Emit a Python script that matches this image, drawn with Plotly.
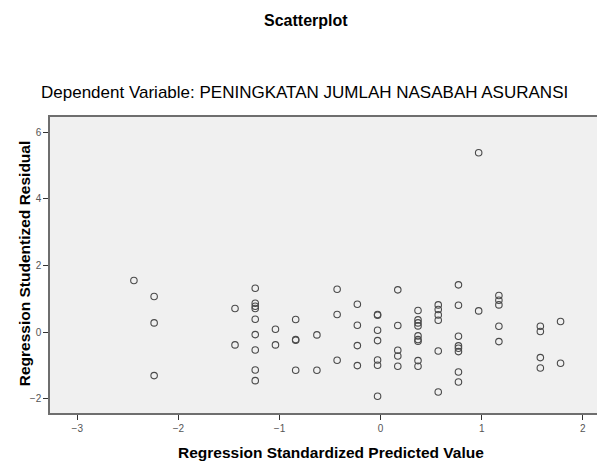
import plotly.graph_objects as go

# Regression standardized predicted value (x) and studentized residual (y)
pred_vals = [
    -2.44,
    -2.24, -2.24, -2.24,
    -1.44, -1.44,
    -1.24, -1.24, -1.24, -1.24, -1.24, -1.24, -1.24, -1.24, -1.24,
    -1.04, -1.04,
    -0.84, -0.84, -0.84, -0.84,
    -0.63, -0.63,
    -0.43, -0.43, -0.43,
    -0.23, -0.23, -0.23, -0.23,
    -0.03, -0.03, -0.03, -0.03, -0.03, -0.03, -0.03,
    0.17, 0.17, 0.17, 0.17, 0.17,
    0.37, 0.37, 0.37, 0.37, 0.37, 0.37, 0.37, 0.37, 0.37,
    0.57, 0.57, 0.57, 0.57, 0.57, 0.57,
    0.77, 0.77, 0.77, 0.77, 0.77, 0.77, 0.77, 0.77,
    0.97, 0.97,
    1.17, 1.17, 1.17, 1.17, 1.17,
    1.58, 1.58, 1.58, 1.58,
    1.78, 1.78,
]
resid_vals = [
    1.55,
    1.07, 0.28, -1.30,
    0.71, -0.38,
    1.32, 0.87, 0.78, 0.71, 0.39, -0.07, -0.53, -1.13, -1.45,
    0.09, -0.38,
    0.38, -0.22, -0.24, -1.14,
    -0.08, -1.14,
    1.29, 0.53, -0.84,
    0.84, 0.21, -0.40, -1.00,
    0.53, 0.51, 0.06, -0.25, -0.83, -0.99, -1.92,
    1.27, 0.20, -0.54, -0.71, -1.02,
    0.65, 0.37, 0.28, 0.19, -0.11, -0.22, -0.27, -0.85, -1.02,
    0.82, 0.68, 0.52, 0.36, -0.56, -1.79,
    1.42, 0.81, -0.12, -0.41, -0.48, -0.58, -1.19, -1.49,
    5.38, 0.64,
    1.10, 0.96, 0.82, 0.18, -0.28,
    0.18, 0.02, -0.76, -1.07,
    0.32, -0.93,
]

x_ticks = [-3, -2, -1, 0, 1, 2]
y_ticks = [-2, 0, 2, 4, 6]

FONT = "Liberation Sans, Arial, sans-serif"

fig = go.Figure()
fig.add_trace(go.Scatter(
    x=pred_vals, y=resid_vals, mode="markers",
    marker=dict(symbol="circle-open", size=6.5,
                line=dict(color="#4a4a4a", width=1.1), color="#4a4a4a"),
    hoverinfo="x+y", showlegend=False,
))

axis_common = dict(
    showgrid=False, zeroline=False, showline=True, linecolor="#6e6e6e",
    linewidth=1.5, mirror=True, ticks="outside", ticklen=5, tickwidth=1,
    tickcolor="#333333", tickfont=dict(family=FONT, size=10, color="#555555"),
)

fig.update_layout(
    width=597, height=453,
    margin=dict(l=42, r=2, t=109, b=48),
    paper_bgcolor="white", plot_bgcolor="#f0f0f0",
    xaxis=dict(range=[-3.27, 2.18], tickvals=x_ticks, **axis_common),
    yaxis=dict(range=[-2.42, 6.45], tickvals=y_ticks, **axis_common),
    font=dict(family=FONT),
    annotations=[
        dict(text="<b>Scatterplot</b>", xref="paper", yref="paper",
             x=0.4647, y=1.3277, xanchor="center", yanchor="middle",
             showarrow=False, font=dict(family=FONT, size=16, color="#000")),
        dict(text="Dependent Variable: PENINGKATAN JUMLAH NASABAH ASURANSI",
             xref="paper", yref="paper", x=0.462, y=1.0828,
             xanchor="center", yanchor="middle", showarrow=False,
             font=dict(family=FONT, size=17, color="#000")),
        dict(text="<b>Regression Standardized Predicted Value</b>",
             xref="paper", yref="paper", x=0.51, y=-0.1318,
             xanchor="center", yanchor="middle", showarrow=False,
             font=dict(family=FONT, size=15.5, color="#000")),
        dict(text="<b>Regression Studentized Residual</b>",
             xref="paper", yref="paper", x=-0.047, y=0.503, textangle=-90,
             xanchor="center", yanchor="middle", showarrow=False,
             font=dict(family=FONT, size=15.5, color="#000")),
    ],
)

fig.write_html("out.html")
